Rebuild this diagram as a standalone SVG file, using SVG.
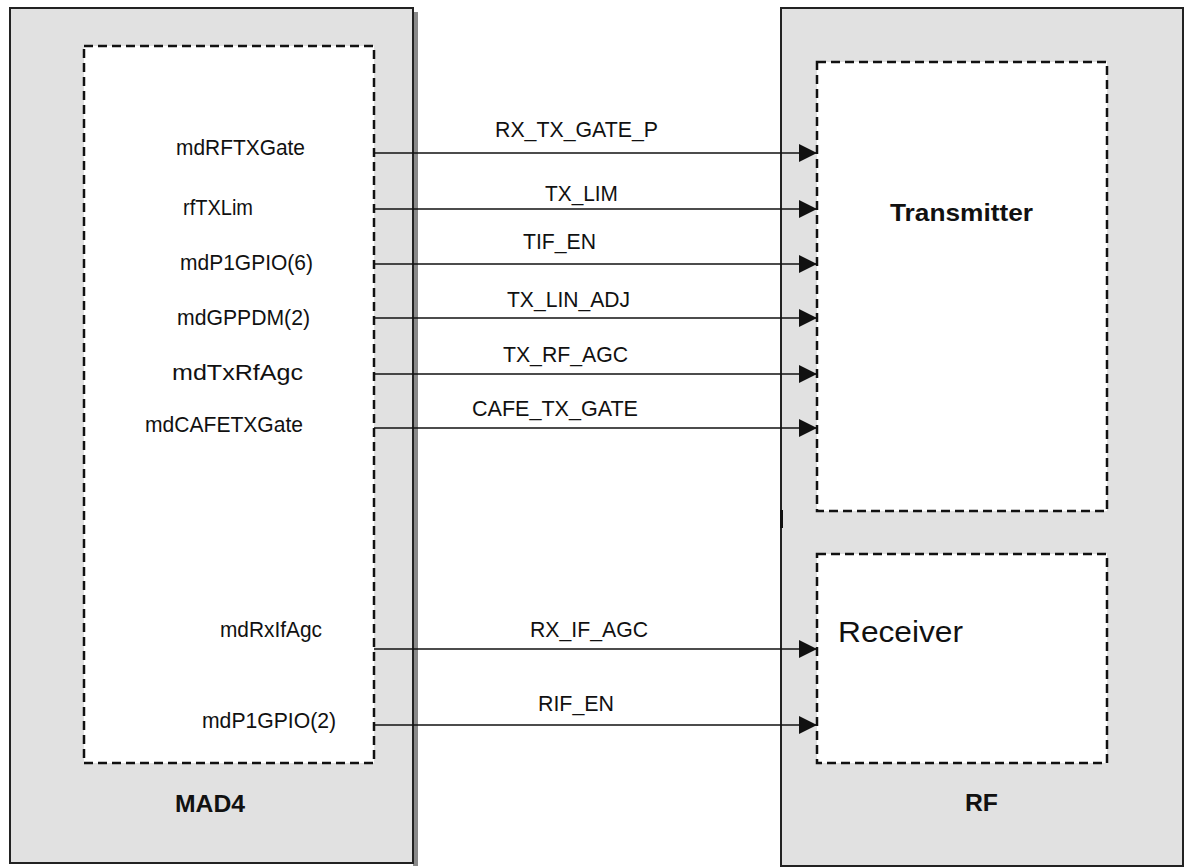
<svg xmlns="http://www.w3.org/2000/svg" width="1186" height="868" viewBox="0 0 1186 868">
<style>
.outer{fill:#e1e1e1;stroke:#222;stroke-width:2}
.inner{fill:#fff;stroke:#111;stroke-width:2.5;stroke-dasharray:9 5}
.lbl{font-family:"Liberation Sans",Arial,sans-serif;font-size:22px;fill:#111}
.bold{font-family:"Liberation Sans",Arial,sans-serif;font-weight:bold;font-size:24px;fill:#111}
.wire{stroke:#111;stroke-width:1.6;fill:none;marker-end:url(#ah)}
</style>
<defs>
<marker id="ah" markerUnits="userSpaceOnUse" markerWidth="19" markerHeight="18" refX="18" refY="9" orient="auto" viewBox="0 0 19 18">
<polygon points="0,0 18,9 0,18" fill="#111"/>
</marker>
</defs>
<rect width="1186" height="868" fill="#fff"/>
<g id="mad4">
<rect x="413" y="12" width="5" height="854" fill="#8a8a8a"/>
<rect class="outer" x="10" y="8" width="403" height="855"/>
<rect class="inner" x="84" y="46" width="290" height="717"/>
<text class="bold" x="175" y="812" textLength="70" lengthAdjust="spacingAndGlyphs">MAD4</text>
<text class="lbl" x="176" y="155" textLength="129" lengthAdjust="spacingAndGlyphs">mdRFTXGate</text>
<text class="lbl" x="183" y="215" textLength="70" lengthAdjust="spacingAndGlyphs">rfTXLim</text>
<text class="lbl" x="180" y="270" textLength="133" lengthAdjust="spacingAndGlyphs">mdP1GPIO(6)</text>
<text class="lbl" x="177" y="325" textLength="133" lengthAdjust="spacingAndGlyphs">mdGPPDM(2)</text>
<text class="lbl" x="172" y="380" textLength="131" lengthAdjust="spacingAndGlyphs">mdTxRfAgc</text>
<text class="lbl" x="145" y="432" textLength="158" lengthAdjust="spacingAndGlyphs">mdCAFETXGate</text>
<text class="lbl" x="220" y="637" textLength="102" lengthAdjust="spacingAndGlyphs">mdRxIfAgc</text>
<text class="lbl" x="202" y="728" textLength="134" lengthAdjust="spacingAndGlyphs">mdP1GPIO(2)</text>
</g>
<g id="rf">
<rect class="outer" x="781" y="8" width="402" height="858"/>
<rect x="780" y="510" width="3" height="18" fill="#111"/>
<text class="bold" x="965" y="811" textLength="33" lengthAdjust="spacingAndGlyphs">RF</text>
</g>
<g id="transmitter">
<rect class="inner" x="817" y="62" width="290" height="449"/>
<text class="bold" x="890" y="221" textLength="143" lengthAdjust="spacingAndGlyphs">Transmitter</text>
</g>
<g id="receiver">
<rect class="inner" x="817" y="554" width="290" height="209"/>
<text class="lbl" x="838" y="642" style="font-size:29px" textLength="125" lengthAdjust="spacingAndGlyphs">Receiver</text>
</g>
<g id="connectors">
<line class="wire" x1="374" y1="153" x2="817" y2="153"/>
<line class="wire" x1="374" y1="209" x2="817" y2="209"/>
<line class="wire" x1="374" y1="264" x2="817" y2="264"/>
<line class="wire" x1="374" y1="318" x2="817" y2="318"/>
<line class="wire" x1="374" y1="374" x2="817" y2="374"/>
<line class="wire" x1="374" y1="428" x2="817" y2="428"/>
<line class="wire" x1="374" y1="649" x2="817" y2="649"/>
<line class="wire" x1="374" y1="725" x2="817" y2="725"/>
<text class="lbl" x="495" y="137" textLength="163" lengthAdjust="spacingAndGlyphs">RX_TX_GATE_P</text>
<text class="lbl" x="545" y="201" textLength="73" lengthAdjust="spacingAndGlyphs">TX_LIM</text>
<text class="lbl" x="523" y="249" textLength="73" lengthAdjust="spacingAndGlyphs">TIF_EN</text>
<text class="lbl" x="507" y="307" textLength="123" lengthAdjust="spacingAndGlyphs">TX_LIN_ADJ</text>
<text class="lbl" x="503" y="362" textLength="125" lengthAdjust="spacingAndGlyphs">TX_RF_AGC</text>
<text class="lbl" x="472" y="416" textLength="166" lengthAdjust="spacingAndGlyphs">CAFE_TX_GATE</text>
<text class="lbl" x="530" y="637" textLength="118" lengthAdjust="spacingAndGlyphs">RX_IF_AGC</text>
<text class="lbl" x="538" y="711" textLength="76" lengthAdjust="spacingAndGlyphs">RIF_EN</text>
</g>
</svg>
